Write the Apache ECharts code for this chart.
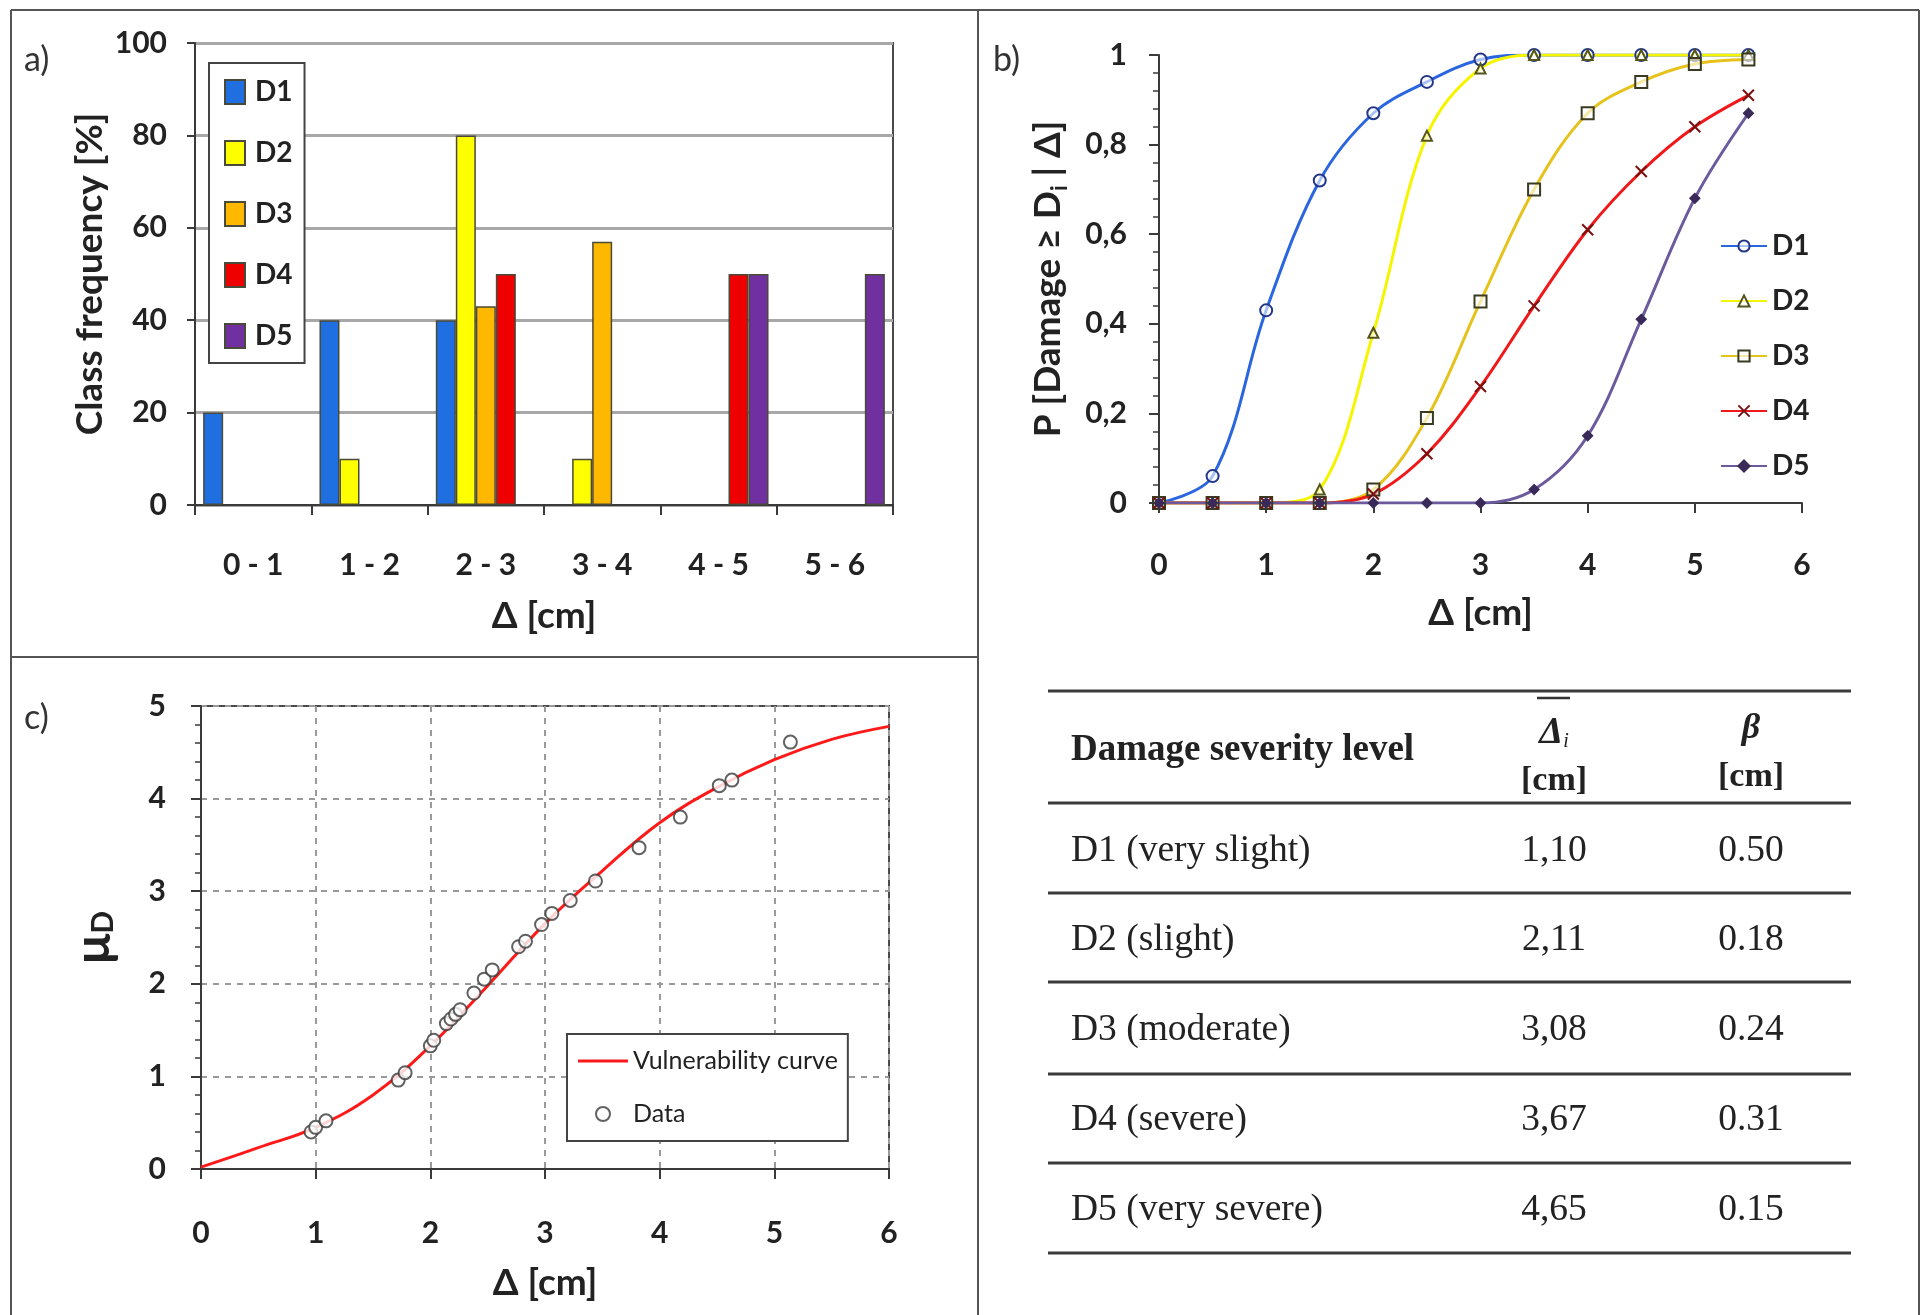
<!DOCTYPE html>
<html>
<head>
<meta charset="utf-8">
<script src="https://cdn.jsdelivr.net/npm/echarts@6/dist/echarts.min.js"></script>
<style>
  body { margin: 0; background: #fff; }
  #chart { width: 1925px; height: 1315px; }
</style>
</head>
<body>
<div id="chart"></div>
<script>
// a) class frequency per displacement class
const categories = ['0 - 1', '1 - 2', '2 - 3', '3 - 4', '4 - 5', '5 - 6'];
const freqD1 = [20, 40, 40, '-', '-', '-'];
const freqD2 = ['-', 10, 80, 10, '-', '-'];
const freqD3 = ['-', '-', 43, 57, '-', '-'];
const freqD4 = ['-', '-', 50, '-', 50, '-'];
const freqD5 = ['-', '-', '-', '-', 50, 50];

// b) fragility curves
const deltaSteps = [0, 0.5, 1, 1.5, 2, 2.5, 3, 3.5, 4, 4.5, 5, 5.5];
const probD1 = [0, 0.06, 0.43, 0.72, 0.87, 0.94, 0.99, 1, 1, 1, 1, 1];
const probD2 = [0, 0, 0, 0.03, 0.38, 0.82, 0.97, 1, 1, 1, 1, 1];
const probD3 = [0, 0, 0, 0, 0.03, 0.19, 0.45, 0.70, 0.87, 0.94, 0.98, 0.99];
const probD4 = [0, 0, 0, 0, 0.02, 0.11, 0.26, 0.44, 0.61, 0.74, 0.84, 0.91];
const probD5 = [0, 0, 0, 0, 0, 0, 0, 0.03, 0.15, 0.41, 0.68, 0.87];

// c) vulnerability curve and data
const curveDelta = [0, 0.5, 1, 1.5, 2, 2.5, 3, 3.5, 4, 4.5, 5, 5.5, 6];
const curveMu = [0.02, 0.23, 0.45, 0.8, 1.33, 1.98, 2.65, 3.22, 3.74, 4.12, 4.42, 4.64, 4.78];
const dataDelta = [0.96, 1.0, 1.09, 1.72, 1.78, 2.0, 2.03, 2.14, 2.18, 2.22, 2.26, 2.38, 2.47, 2.54,
                   2.77, 2.83, 2.97, 3.06, 3.22, 3.44, 3.82, 4.18, 4.52, 4.63, 5.14];
const dataMu = [0.40, 0.45, 0.52, 0.96, 1.04, 1.33, 1.39, 1.57, 1.62, 1.67, 1.72, 1.90, 2.05, 2.15,
                2.40, 2.46, 2.64, 2.76, 2.90, 3.11, 3.47, 3.80, 4.14, 4.20, 4.61];

// table
const levelNames = ['D1 (very slight)', 'D2 (slight)', 'D3 (moderate)', 'D4 (severe)', 'D5 (very severe)'];
const meanDelta = ['1,10', '2,11', '3,08', '3,67', '4,65'];
const betaValues = ['0.50', '0.18', '0.24', '0.31', '0.15'];

const FONT = 'Lato';
const SERIF = 'Liberation Serif';
const AX = '#3a3a3a';

var chart = echarts.init(document.getElementById('chart'));

function pairs(xs, ys) {
  return xs.map(function (x, i) { return [x, ys[i]]; });
}
function comma(v) {
  return v === 0 || v === 1 ? String(v) : v.toFixed(1).replace('.', ',');
}

var barColors = ['#1f6fe0', '#ffff00', '#ffb800', '#ee0000', '#7030a0'];
var barData = [freqD1, freqD2, freqD3, freqD4, freqD5];

var lineColors = ['#2a66e0', '#f5f500', '#e6c21c', '#f01818', '#6c5a9c'];
var markerColors = ['#23378a', '#55551a', '#3a3a20', '#7a1010', '#3a2a5a'];
var symbols = ['circle', 'triangle', 'rect', 'path://M0,0L10,10M10,0L0,10', 'diamond'];
var symSizes = [12, 10, 12, 11, 9];
var probData = [probD1, probD2, probD3, probD4, probD5];

var series = [];
barData.forEach(function (d, i) {
  series.push({
    name: 'D' + (i + 1),
    type: 'bar',
    xAxisIndex: 0, yAxisIndex: 0,
    data: d,
    barGap: '0%',
    barCategoryGap: '14%',
    itemStyle: { color: barColors[i], borderColor: '#4a4a3a', borderWidth: 1.5 }
  });
});
probData.forEach(function (d, i) {
  var filled = i === 4 || i === 3;
  series.push({
    name: 'P-D' + (i + 1),
    type: 'line',
    xAxisIndex: 1, yAxisIndex: 1,
    data: pairs(deltaSteps, d),
    smooth: 0.35,
    symbol: symbols[i],
    symbolSize: symSizes[i],
    showAllSymbol: true,
    lineStyle: { color: lineColors[i], width: 3 },
    itemStyle: {
      color: filled ? markerColors[i] : 'rgba(255,255,255,0.6)',
      borderColor: markerColors[i],
      borderWidth: 2
    }
  });
});
series.push({
  name: 'Vulnerability curve',
  type: 'line',
  xAxisIndex: 2, yAxisIndex: 2,
  data: pairs(curveDelta, curveMu),
  smooth: 0.4,
  symbol: 'none',
  lineStyle: { color: '#ff1a1a', width: 3 },
  itemStyle: { color: '#ff1a1a' },
  z: 3
});
series.push({
  name: 'Data',
  type: 'scatter',
  xAxisIndex: 2, yAxisIndex: 2,
  data: pairs(dataDelta, dataMu),
  symbol: 'emptyCircle',
  symbolSize: 13,
  itemStyle: { color: '#3a3a3a', borderColor: '#3a3a3a', borderWidth: 1.8 },
  z: 4
});

var tickLabel = { fontFamily: FONT, fontWeight: 'bold', fontSize: 30, color: '#222' };
var nameStyle = { fontFamily: FONT, fontWeight: 'bold', fontSize: 37, color: '#222' };
var axLine = { show: true, lineStyle: { color: AX, width: 2 } };

// table graphics
var tableLeft = 1048, tableRight = 1851;
var ruleYs = [691, 803, 893, 982, 1074, 1163, 1253];
var rowYs = [851, 940, 1030, 1120, 1210];
var col2 = 1554, col3 = 1751, col1 = 1071;
var graphics = [];
function hline(x1, x2, y, w, c) {
  graphics.push({ type: 'line', shape: { x1: x1, y1: y, x2: x2, y2: y }, style: { stroke: c, lineWidth: w }, silent: true });
}
function vline(x, y1, y2, w, c) {
  graphics.push({ type: 'line', shape: { x1: x, y1: y1, x2: x, y2: y2 }, style: { stroke: c, lineWidth: w }, silent: true });
}
function txt(t, x, y, opts) {
  graphics.push({
    type: 'text', x: x, y: y, silent: true,
    style: Object.assign({ text: t, fill: '#222', fontFamily: SERIF, fontSize: 37.5, align: 'left', verticalAlign: 'middle' }, opts || {})
  });
}
// panel frame
hline(11, 1919, 10, 2, '#555');
vline(11, 10, 1320, 2, '#555');
vline(1919, 10, 1320, 2, '#555');
vline(978, 10, 1320, 2, '#555');
hline(11, 978, 657, 2, '#555');
// panel labels
txt('a)', 24, 60, { fontFamily: FONT, fontSize: 34, fill: '#333' });
txt('b)', 993, 60, { fontFamily: FONT, fontSize: 34, fill: '#333' });
txt('c)', 24, 718, { fontFamily: FONT, fontSize: 34, fill: '#333' });
// table rules
ruleYs.forEach(function (y) { hline(tableLeft, tableRight, y, 3, '#3a3a3a'); });
// header
txt('Damage severity level', col1, 750, { fontWeight: 'bold', fontSize: 37 });
txt('{d|Δ}{i|i}', col2, 733, {
  align: 'center',
  rich: {
    d: { fontFamily: SERIF, fontStyle: 'italic', fontWeight: 'bold', fontSize: 38, fill: '#222' },
    i: { fontFamily: SERIF, fontStyle: 'italic', fontSize: 20, fill: '#222', padding: [18, 0, 0, 0] }
  }
});
hline(1537, 1570, 698, 2.5, '#333');
txt('[cm]', col2, 781, { align: 'center', fontWeight: 'bold', fontSize: 34 });
txt('β', col3, 729, { align: 'center', fontStyle: 'italic', fontWeight: 'bold', fontSize: 36 });
txt('[cm]', col3, 777, { align: 'center', fontWeight: 'bold', fontSize: 34 });
levelNames.forEach(function (n, i) {
  txt(n, col1, rowYs[i]);
  txt(meanDelta[i], col2, rowYs[i], { align: 'center' });
  txt(betaValues[i], col3, rowYs[i], { align: 'center' });
});

var option = {
  backgroundColor: '#fff',
  animation: false,
  grid: [
    { left: 195, top: 43, width: 698, height: 462, show: true, borderColor: '#4a4a4a', borderWidth: 2 },
    { left: 1159, top: 55, width: 643, height: 448 },
    { left: 201, top: 706, width: 688, height: 463, show: true, borderColor: '#4a4a4a', borderWidth: 2 }
  ],
  legend: [
    {
      data: ['D1', 'D2', 'D3', 'D4', 'D5'],
      icon: 'rect',
      orient: 'vertical', left: 209, top: 63,
      padding: [15, 12, 13, 15],
      itemWidth: 20, itemHeight: 24, itemGap: 33,
      borderColor: '#444', borderWidth: 2, backgroundColor: '#fff',
      selectedMode: false,
      textStyle: { fontFamily: FONT, fontWeight: 'bold', fontSize: 28, color: '#222', padding: [0, 0, 0, 5] }
    },
    {
      data: ['P-D1', 'P-D2', 'P-D3', 'P-D4', 'P-D5'],
      formatter: function (n) { return n.replace('P-', ''); },
      orient: 'vertical', left: 1720, top: 232,
      padding: 0,
      itemWidth: 46, itemHeight: 14, itemGap: 27,
      selectedMode: false,
      textStyle: { fontFamily: FONT, fontWeight: 'bold', fontSize: 28, color: '#222', lineHeight: 28 }
    },
    {
      data: [
        { name: 'Vulnerability curve', icon: 'path://M0,0H50V3H0Z' },
        { name: 'Data' }
      ],
      orient: 'vertical', left: 567, top: 1034,
      padding: [14, 10, 14, 11],
      itemWidth: 50, itemHeight: 14, itemGap: 27,
      borderColor: '#444', borderWidth: 2, backgroundColor: '#fff',
      selectedMode: false,
      textStyle: { fontFamily: FONT, fontSize: 25, color: '#222', lineHeight: 26 }
    }
  ],
  xAxis: [
    {
      gridIndex: 0, type: 'category', data: categories,
      axisLine: axLine,
      axisTick: { show: true, length: 10, lineStyle: { color: AX, width: 2 } },
      axisLabel: Object.assign({ margin: 45 }, tickLabel),
      name: 'Δ [cm]', nameLocation: 'middle', nameGap: 93, nameTextStyle: nameStyle
    },
    {
      gridIndex: 1, type: 'value', min: 0, max: 6, interval: 1,
      axisLine: axLine,
      axisTick: { show: true, length: 10, lineStyle: { color: AX, width: 2 } },
      splitLine: { show: false },
      axisLabel: Object.assign({ margin: 47 }, tickLabel),
      name: 'Δ [cm]', nameLocation: 'middle', nameGap: 92, nameTextStyle: nameStyle
    },
    {
      gridIndex: 2, type: 'value', min: 0, max: 6, interval: 1,
      axisLine: axLine,
      axisTick: { show: true, length: 10, lineStyle: { color: AX, width: 2 } },
      splitLine: { show: true, lineStyle: { color: '#9a9a9a', width: 2, type: [6, 6] } },
      axisLabel: Object.assign({ margin: 49 }, tickLabel),
      name: 'Δ [cm]', nameLocation: 'middle', nameGap: 96, nameTextStyle: nameStyle
    }
  ],
  yAxis: [
    {
      gridIndex: 0, type: 'value', min: 0, max: 100, interval: 20,
      axisLine: axLine,
      axisTick: { show: true, length: 8, lineStyle: { color: AX, width: 2 } },
      splitLine: { show: true, lineStyle: { color: '#a8a8a8', width: 3 } },
      axisLabel: Object.assign({ margin: 28 }, tickLabel),
      name: 'Class frequency [%]', nameLocation: 'middle', nameGap: 86, nameTextStyle: nameStyle
    },
    {
      gridIndex: 1, type: 'value', min: 0, max: 1, interval: 0.2,
      axisLine: axLine,
      axisTick: { show: true, length: 10, lineStyle: { color: AX, width: 2 } },
      minorTick: { show: true, splitNumber: 5, length: 6, lineStyle: { color: AX, width: 1.5 } },
      splitLine: { show: false },
      axisLabel: Object.assign({ margin: 32, formatter: comma }, tickLabel),
      name: 'P [Damage ≥ D{s|i} | Δ]', nameLocation: 'middle', nameGap: 88,
      nameTextStyle: Object.assign({}, nameStyle, {
        lineHeight: 46,
        rich: { s: { fontFamily: FONT, fontWeight: 'bold', fontSize: 22, lineHeight: 22, color: '#222', verticalAlign: 'bottom' } }
      })
    },
    {
      gridIndex: 2, type: 'value', min: 0, max: 5, interval: 1,
      axisLine: axLine,
      axisTick: { show: true, length: 10, lineStyle: { color: AX, width: 2 } },
      minorTick: { show: true, splitNumber: 5, length: 6, lineStyle: { color: AX, width: 1.5 } },
      splitLine: { show: true, lineStyle: { color: '#9a9a9a', width: 2, type: [6, 6] } },
      axisLabel: Object.assign({ margin: 35 }, tickLabel),
      name: '{m|μ}{d|D}', nameLocation: 'middle', nameGap: 82,
      nameTextStyle: {
        rich: {
          m: { fontFamily: FONT, fontWeight: 'bold', fontSize: 50, color: '#222' },
          d: { fontFamily: FONT, fontWeight: 'bold', fontSize: 30, color: '#222', padding: [18, 0, 0, 0] }
        }
      }
    }
  ],
  series: series,
  graphic: graphics
};

chart.setOption(option);
</script>
</body>
</html>
